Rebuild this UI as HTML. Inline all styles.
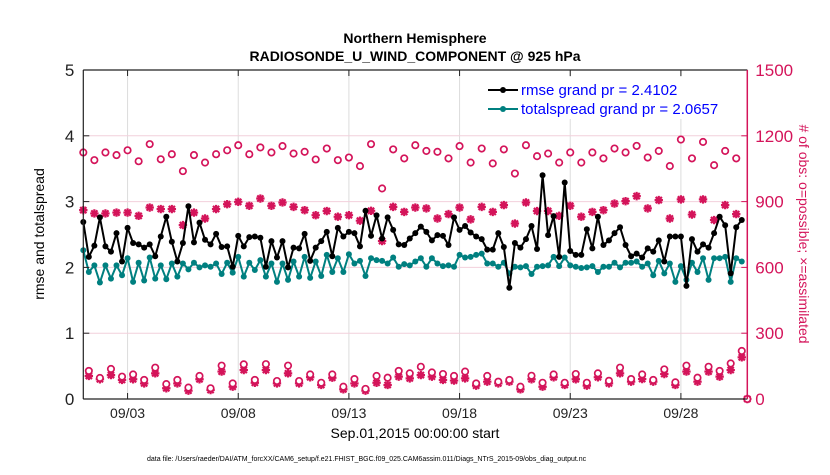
<!DOCTYPE html>
<html>
<head>
<meta charset="utf-8">
<style>
  html,body{margin:0;padding:0;background:#fff;}
  body{width:830px;height:470px;overflow:hidden;font-family:"Liberation Sans",Arial,sans-serif;}
  svg text{font-family:"Liberation Sans",Arial,sans-serif;}
</style>
</head>
<body>
<svg id="chart" width="830" height="470" viewBox="0 0 830 470" xmlns="http://www.w3.org/2000/svg">
  <rect x="0" y="0" width="830" height="470" fill="#fff"/>
  <text x="415" y="43" text-anchor="middle" font-size="14" font-weight="bold">Northern Hemisphere</text>
  <text x="415" y="61" text-anchor="middle" font-size="14" font-weight="bold">RADIOSONDE_U_WIND_COMPONENT @ 925 hPa</text>
  <g id="grid"></g>
  <g id="marks"></g>
  <g id="axes"></g>
  <text transform="translate(44,234) rotate(-90)" text-anchor="middle" font-size="14">rmse and totalspread</text>
  <text transform="translate(799,234) rotate(90)" text-anchor="middle" font-size="14" fill="#d4145a"># of obs: o=possible; ×=assimilated</text>
  <text x="415" y="438" text-anchor="middle" font-size="14">Sep.01,2015 00:00:00 start</text>
  <text x="147" y="461" font-size="7">data file: /Users/raeder/DAI/ATM_forcXX/CAM6_setup/f.e21.FHIST_BGC.f09_025.CAM6assim.011/Diags_NTrS_2015-09/obs_diag_output.nc</text>
  <g id="legend">
    <rect x="482" y="77" width="256" height="42" fill="#fff"/>
    <line x1="488" y1="90" x2="518" y2="90" stroke="#000" stroke-width="2"/>
    <circle cx="503" cy="90" r="3" fill="#000"/>
    <text x="521" y="95" font-size="15" fill="#0000ff">rmse grand pr = 2.4102</text>
    <line x1="488" y1="109" x2="518" y2="109" stroke="#008080" stroke-width="2"/>
    <circle cx="503" cy="109" r="3" fill="#008080"/>
    <text x="521" y="114" font-size="15" fill="#0000ff">totalspread grand pr = 2.0657</text>
  </g>
</svg>
<script>
// ---- data (days since Sep.01 00Z) ----
const rmse = [2.69,2.16,2.33,2.76,2.32,2.24,2.52,2.09,2.60,2.37,2.35,2.30,2.35,2.17,2.47,2.77,2.39,2.09,2.37,2.93,2.38,2.68,2.42,2.35,2.51,2.31,2.32,2.01,2.48,2.32,2.46,
2.47,2.45,2.01,2.40,2.15,2.40,2.00,2.30,2.29,2.51,2.10,2.30,2.40,2.54,2.17,2.60,2.47,2.54,2.52,2.32,2.86,2.48,2.79,2.44,2.76,2.57,2.35,2.34,2.44,2.52,
2.62,2.54,2.41,2.49,2.48,2.34,2.76,2.57,2.63,2.53,2.47,2.43,2.27,2.27,2.52,2.31,1.69,2.37,2.30,2.43,2.63,2.28,3.40,2.49,2.78,2.16,3.29,2.25,2.19,
2.19,2.58,2.29,2.77,2.34,2.41,2.52,2.61,2.34,2.17,2.21,2.15,2.29,2.24,2.41,2.09,2.47,2.47,2.47,1.72,2.43,2.24,2.35,2.30,2.52,2.77,2.64,1.91,2.61,2.72];
const totalspread = [2.26,1.93,2.03,1.77,2.03,1.83,2.03,1.88,2.14,1.78,2.07,1.80,2.15,1.83,2.03,1.82,2.06,1.86,2.06,1.97,2.07,2.00,2.03,2.01,2.06,1.90,2.07,1.92,2.16,1.86,2.07,
1.96,2.11,1.86,2.06,1.78,2.06,1.81,2.09,1.86,2.16,1.84,2.09,1.87,2.19,1.93,2.14,1.93,2.20,2.06,2.10,1.87,2.14,2.11,2.10,2.06,2.15,2.01,2.05,2.03,2.09,
2.14,2.01,2.14,2.06,2.02,2.03,2.01,2.19,2.15,2.16,2.19,2.21,2.06,2.06,2.01,2.07,1.91,2.01,2.00,2.02,1.90,2.01,2.02,2.03,2.16,2.02,2.15,2.03,2.01,
1.99,2.00,2.02,1.93,2.01,2.01,2.07,2.00,2.07,2.07,2.09,2.01,2.06,1.88,2.10,1.91,2.06,1.78,2.02,1.81,2.07,1.93,2.14,1.81,2.14,2.14,2.16,1.78,2.14,2.09];
// 00Z/12Z counts, t = 0, 0.5, ... 30
const possibleSynoptic = [1124,1089,1124,1112,1134,1084,1162,1093,1116,1039,1112,1078,1116,1134,1157,1116,
1147,1124,1153,1119,1127,1092,1142,1089,1101,1062,1162,960,1138,1097,1157,
1131,1127,1097,1153,1078,1142,1074,1138,1028,1157,1107,1119,1078,1124,
1078,1124,1097,1142,1124,1154,1101,1131,1062,1183,1097,1172,1066,1131,1097,0];
const assimSynoptic = [861,846,846,850,850,835,873,866,866,793,850,823,866,888,899,881,
914,881,896,876,861,838,857,831,838,813,858,720,876,853,873,
869,823,843,873,819,876,853,884,800,896,857,857,835,881,
831,853,861,891,902,925,869,907,823,910,841,910,816,884,843,0];
// 06Z/18Z counts, t = 0.25, 0.75, ... 29.75
const possibleOff = [128,96,137,102,112,87,143,68,87,52,105,49,152,71,158,87,159,82,152,82,112,74,112,56,91,46,105,97,128,117,
147,121,114,105,125,71,105,79,87,56,106,74,112,74,114,74,117,83,143,91,112,87,135,76,152,97,147,128,162,219];
const assimOff = [105,90,109,87,90,71,117,49,71,38,90,41,125,56,132,74,132,71,117,71,99,64,97,44,71,38,74,64,102,94,
109,102,87,84,94,61,79,71,79,44,90,56,99,64,90,61,99,71,117,79,91,79,114,64,125,79,125,102,132,190];
const xTickLabels = ["09/03","09/08","09/13","09/18","09/23","09/28"];
const xTickDays = [2,7,12,17,22,27];
const yTickLabels = ["0","1","2","3","4","5"];
const yRightTickLabels = ["0","300","600","900","1200","1500"];

// ---- axes ----
const L=83.3, R=747.3, T=70, B=399, DAYS=30;
const X = d => L + (R-L)*d/DAYS;
const Y = v => B - (B-T)*v/5;
const YR = v => B - (B-T)*v/1500;
const NS="http://www.w3.org/2000/svg";
const CR="#d4145a";
function mk(tag, attrs, parent){
  const e=document.createElementNS(NS,tag);
  for(const k in attrs) e.setAttribute(k, attrs[k]);
  parent.appendChild(e); return e;
}
const grid=document.getElementById('grid'), marks=document.getElementById('marks'), axes=document.getElementById('axes');

xTickDays.forEach((d,i)=>{
  const g=mk('line',{x1:X(d),x2:X(d),y1:T,y2:B,stroke:'#dcdcdc','stroke-width':1},grid);
  
  
  const t1=mk('line',{x1:X(d),x2:X(d),y1:B,y2:B-6,stroke:'#222','stroke-width':1},axes);
  
  
  const t2=mk('line',{x1:X(d),x2:X(d),y1:T,y2:T+6,stroke:'#222','stroke-width':1},axes);
  
  
  const lb=mk('text',{x:X(d),y:B+19,'text-anchor':'middle','font-size':14,fill:'#222'},axes);
  lb.textContent=xTickLabels[i];
  
  
});
yRightTickLabels.forEach((s,i)=>{
  const v=+s, y=YR(v);
  if(i>0 && i<yRightTickLabels.length-1){
    const g=mk('line',{x1:L,x2:R,y1:y,y2:y,stroke:'#f2d0dc','stroke-width':1},grid);
    
    
  }
  const tk=mk('line',{x1:R-6,x2:R,y1:y,y2:y,stroke:CR,'stroke-width':1},axes);
  
  
  const lb=mk('text',{x:R+8,y:y+6,'font-size':17,fill:CR},axes);
  lb.textContent=s;
  
  
});
yTickLabels.forEach(s=>{
  const y=Y(+s);
  const tk=mk('line',{x1:L,x2:L+6,y1:y,y2:y,stroke:'#222','stroke-width':1},axes);
  
  
  const lb=mk('text',{x:L-9,y:y+6,'text-anchor':'end','font-size':17,fill:'#222'},axes);
  lb.textContent=s;
  
  
});
const axL=mk('line',{x1:L,x2:L,y1:T,y2:B,stroke:'#222','stroke-width':1.2},axes);


const axB=mk('line',{x1:L,x2:R,y1:B,y2:B,stroke:'#222','stroke-width':1.2},axes);


const axT=mk('line',{x1:L,x2:R,y1:T,y2:T,stroke:'#222','stroke-width':1.2},axes);


const axR=mk('line',{x1:R,x2:R,y1:T,y2:B,stroke:CR,'stroke-width':1.5},axes);



// ---- count markers ----
function star(cx,cy,name){
  const r=4.2, d=3.1;
  const p=mk('path',{d:`M${cx-r},${cy}H${cx+r}M${cx},${cy-r}V${cy+r}M${cx-d},${cy-d}L${cx+d},${cy+d}M${cx-d},${cy+d}L${cx+d},${cy-d}`,stroke:CR,'stroke-width':2.2,fill:'none'},marks);
  
  
}
function ring(cx,cy,name){
  const c=mk('circle',{cx:cx,cy:cy,r:3.2,fill:'#fff',stroke:CR,'stroke-width':1.7},marks);
  
  
}
assimSynoptic.forEach((v,i)=>star(X(i*0.5),YR(v),'assimilated-marker'));
assimOff.forEach((v,i)=>star(X(0.25+i*0.5),YR(v),'assimilated-marker'));
possibleSynoptic.forEach((v,i)=>ring(X(i*0.5),YR(v),'possible-marker'));
possibleOff.forEach((v,i)=>ring(X(0.25+i*0.5),YR(v),'possible-marker'));

// ---- line series ----
function series(arr,color,name){
  const pts=arr.map((v,i)=>`${X(i*0.25).toFixed(2)},${Y(v).toFixed(2)}`).join(' ');
  const pl=mk('polyline',{points:pts,fill:'none',stroke:color,'stroke-width':2,'stroke-linejoin':'round'},marks);
  
  
  arr.forEach((v,i)=>{
    const c=mk('circle',{cx:X(i*0.25),cy:Y(v),r:3,fill:color},marks);
    
    
  });
}
series(totalspread,'#008080','totalspread');
series(rmse,'#000000','rmse');
</script>
</body>
</html>
